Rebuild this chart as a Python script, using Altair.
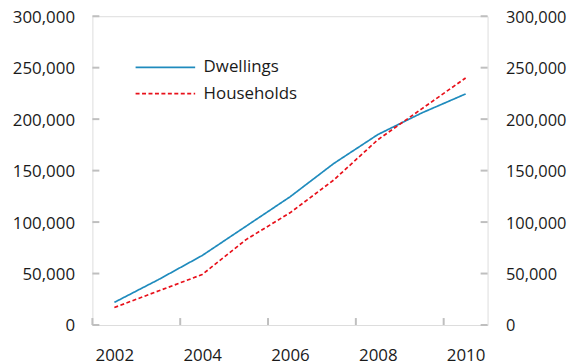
import altair as alt
import pandas as pd

years = [2002, 2003, 2004, 2005, 2006, 2007, 2008, 2009, 2010]
dwellings = [22000, 44000, 67500, 96000, 124500, 157000, 185000, 206000, 224500]
households = [17000, 33000, 49000, 83000, 109000, 141000, 180000, 210000, 240000]
series = ["Dwellings", "Households"]
x_labels = [2002, 2004, 2006, 2008, 2010]
x_tick_pos = [2001.5, 2003.5, 2005.5, 2007.5, 2009.5]
y_ticks = [0, 50000, 100000, 150000, 200000, 250000, 300000]

W, H = 398, 311
FONT = "Open Sans"
FS = 17

rows = []
for y, d, h in zip(years, dwellings, households):
    rows.append({"year": y, "series": "Dwellings", "value": d})
    rows.append({"year": y, "series": "Households", "value": h})
df = pd.DataFrame(rows)
xt = pd.DataFrame({"pos": x_tick_pos})
yt = pd.DataFrame({"v": y_ticks})

xscale = alt.Scale(domain=[2001.5, 2010.5], nice=False, zero=False)
yscale = alt.Scale(domain=[0, 300000], nice=False)

xaxis = alt.Axis(values=x_labels, format="d", title=None, grid=False, domain=False,
                 ticks=False, labelPadding=23, labelFont=FONT, labelFontSize=FS,
                 labelColor="#1a1a1a")
yaxis_left = alt.Axis(values=y_ticks, format=",.0f", title=None, grid=False, domain=False,
                      ticks=False, labelPadding=18, labelFont=FONT, labelFontSize=FS,
                      labelColor="#1a1a1a", orient="left", labelOffset=1)
yaxis_right = alt.Axis(values=y_ticks, format=",.0f", title=None, grid=False, domain=False,
                       ticks=False, labelPadding=18, labelFont=FONT, labelFontSize=16.5,
                       labelColor="#1a1a1a", orient="right", labelOffset=1)

lines = alt.Chart(df).mark_line(strokeWidth=1.7).encode(
    x=alt.X("year:Q", scale=xscale, axis=xaxis),
    y=alt.Y("value:Q", scale=yscale, axis=yaxis_left),
    color=alt.Color("series:N", scale=alt.Scale(domain=series, range=["#1f8bbd", "#e8101a"]),
                    legend=alt.Legend(title=None, orient="none", legendX=65, legendY=43,
                                      symbolType="M-6,0H6", symbolSize=100,
                                      symbolStrokeWidth=1.7, labelOffset=30,
                                      labelFont=FONT, labelFontSize=FS, labelColor="#1a1a1a",
                                      rowPadding=8.5)),
    strokeDash=alt.StrokeDash("series:N", scale=alt.Scale(domain=series, range=[[1, 0], [4, 2.5]]),
                              legend=alt.Legend(title=None)),
)

xticks = alt.Chart(xt).mark_rule(color="#bfbfbf", strokeWidth=2).encode(
    x=alt.X("pos:Q", scale=xscale, axis=xaxis),
    y=alt.value(H), y2=alt.value(H - 7),
)

lticks = alt.Chart(yt).mark_rule(color="#bfbfbf", strokeWidth=2).encode(
    y=alt.Y("v:Q", scale=yscale, axis=None),
    x=alt.value(0), x2=alt.value(7),
)

rticks = alt.Chart(yt).mark_rule(color="#bfbfbf", strokeWidth=2).encode(
    y=alt.Y("v:Q", scale=yscale, axis=yaxis_right),
    x=alt.value(W - 7), x2=alt.value(W),
)

chart = alt.layer(xticks, lticks, rticks, lines).resolve_axis(y="independent").properties(
    width=W, height=H,
    autosize=alt.AutoSizeParams(type="none"),
    padding={"left": 85, "top": 7, "right": 82, "bottom": 38},
).configure_view(stroke="#bfbfbf", strokeWidth=2).configure(background="white")

chart.save("out.html", embed_options={"renderer": "svg", "actions": False})
